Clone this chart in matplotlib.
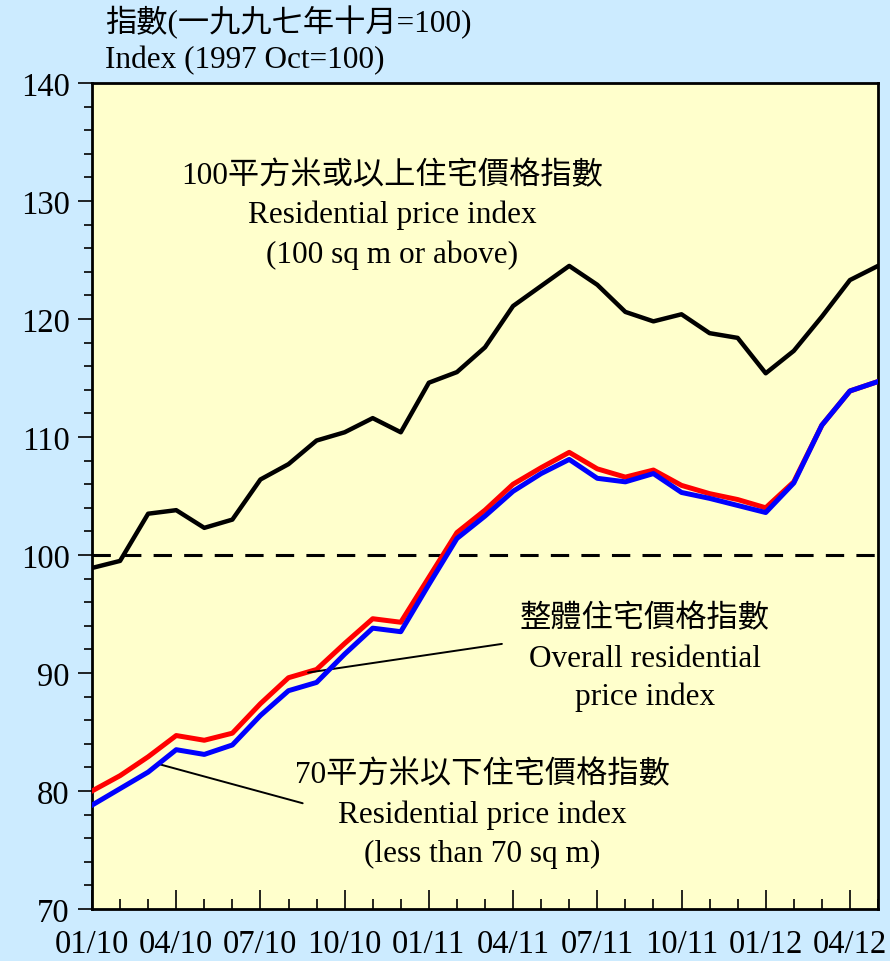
import numpy as np
import matplotlib.pyplot as plt
from matplotlib.ticker import MultipleLocator

# Fuentes: serif latina con respaldo CJK para los textos en chino
plt.rcParams['font.family'] = ['Liberation Serif', 'Noto Sans CJK TC']

# Datos mensuales 01/2010 - 05/2012
meses = np.arange(29)
etiquetas_x = ['01/10', '04/10', '07/10', '10/10', '01/11', '04/11', '07/11',
               '10/11', '01/12', '04/12']

grande = [98.9, 99.5, 103.5, 103.8, 102.3, 103.0, 106.4, 107.7, 109.7, 110.4,
          111.6, 110.4, 114.6, 115.5, 117.6, 121.1, 122.8, 124.5, 122.9, 120.6,
          119.8, 120.4, 118.8, 118.4, 115.4, 117.3, 120.2, 123.3, 124.5]
total = [80.0, 81.3, 82.9, 84.7, 84.3, 84.9, 87.4, 89.6, 90.3, 92.5,
         94.6, 94.3, 98.1, 101.9, 103.8, 106.0, 107.4, 108.7, 107.3, 106.6,
         107.2, 105.9, 105.2, 104.7, 104.0, 106.2, 111.0, 113.9, 114.7]
pequeno = [78.8, 80.2, 81.6, 83.5, 83.1, 83.9, 86.4, 88.5, 89.2, 91.6,
           93.8, 93.5, 97.5, 101.4, 103.3, 105.4, 106.9, 108.1, 106.5, 106.2,
           106.9, 105.3, 104.8, 104.2, 103.6, 106.1, 111.0, 113.9, 114.7]

fig = plt.figure(figsize=(8.9, 9.62), dpi=100, facecolor='#CCEBFF')
ax = fig.add_axes([92/890, 1 - 910/962, (878 - 92)/890, (910 - 84)/962])
ax.set_facecolor('#FFFFCC')

ax.axhline(100, color='black', lw=2.2, dashes=(6, 4), zorder=2)
ax.plot(meses, grande, color='black', lw=3.2, zorder=3)
ax.plot(meses, total, color='#FF0000', lw=3.6, zorder=3)
ax.plot(meses, pequeno, color='#0000FF', lw=3.6, zorder=4)

ax.set_xlim(0, 28)
ax.set_ylim(70, 140)
ax.set_xticks(meses[::3])
ax.set_xticklabels(etiquetas_x)
ax.xaxis.set_minor_locator(MultipleLocator(1))
ax.yaxis.set_major_locator(MultipleLocator(10))
ax.yaxis.set_minor_locator(MultipleLocator(2))
ax.tick_params(axis='x', which='major', direction='in', length=14, width=1.2,
               labelsize=23.5, pad=14)
ax.tick_params(axis='x', which='minor', direction='in', length=7, width=1.2)
ax.tick_params(axis='y', which='major', direction='out', length=10, width=1.2,
               labelsize=23.5, pad=6)
ax.tick_params(axis='y', which='minor', direction='out', length=6, width=1.2)
for s in ax.spines.values():
    s.set_linewidth(2)

tam = 22.5

# Titulo del eje
fig.text(105/890, 1 - 22/962, '指數(一九九七年十月=100)', fontsize=tam, va='center')
fig.text(105/890, 1 - 61/962, 'Index (1997 Oct=100)', fontsize=tam, va='center')

# Etiquetas de las series
ax.text(10.7, 132.2, '100平方米或以上住宅價格指數', fontsize=tam, ha='center', va='center')
ax.text(10.7, 128.9, 'Residential price index', fontsize=tam, ha='center', va='center')
ax.text(10.7, 125.5, '(100 sq m or above)', fontsize=tam, ha='center', va='center')

ax.text(19.7, 94.6, '整體住宅價格指數', fontsize=tam, ha='center', va='center')
ax.text(19.7, 91.2, 'Overall residential', fontsize=tam, ha='center', va='center')
ax.text(19.7, 88.0, 'price index', fontsize=tam, ha='center', va='center')

ax.text(13.9, 81.4, '70平方米以下住宅價格指數', fontsize=tam, ha='center', va='center')
ax.text(13.9, 78.05, 'Residential price index', fontsize=tam, ha='center', va='center')
ax.text(13.9, 74.7, '(less than 70 sq m)', fontsize=tam, ha='center', va='center')

# Lineas guia
ax.annotate('', xy=(7.6, 90.0), xytext=(14.7, 92.5),
            arrowprops=dict(arrowstyle='-', color='black', lw=1.4))
ax.annotate('', xy=(2.35, 82.3), xytext=(7.6, 78.9),
            arrowprops=dict(arrowstyle='-', color='black', lw=1.4))

fig.savefig('out.png', dpi=100, facecolor=fig.get_facecolor())
